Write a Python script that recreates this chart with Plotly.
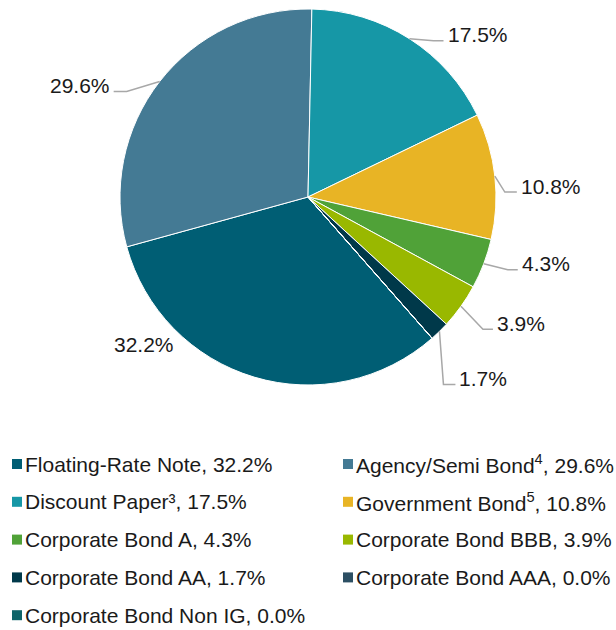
import math
import plotly.graph_objects as go

# Portfolio composition by instrument type (% of holdings)
categories = [
    "Floating-Rate Note",
    "Agency/Semi Bond<sup>4</sup>",
    "Discount Paper³",
    "Government Bond<sup>5</sup>",
    "Corporate Bond A",
    "Corporate Bond BBB",
    "Corporate Bond AA",
    "Corporate Bond AAA",
    "Corporate Bond Non IG",
]
weights = [32.2, 29.6, 17.5, 10.8, 4.3, 3.9, 1.7, 0.0, 0.0]
colors = [
    "#005E74", "#447A94", "#1697A6", "#E8B425", "#50A238",
    "#99B800", "#00394A", "#2C4F63", "#0E6469",
]

# ---- geometry (pixels) ----
W, H = 616, 630
CX, CY, R = 308, 197, 188
ROTATION = 138.7          # start angle of the first slice, clockwise from 12 o'clock
FONT = "Arial, 'Liberation Sans', sans-serif"
TEXT_COLOR = "#1A1A1A"
LEADER_COLOR = "#A8A8A8"

# Leader style per slice: (elbow dx, elbow dy, horizontal arm) in px, relative to the rim point
leaders = [
    None,
    (-33, 10, -13),
    (24, 2, 10),
    (10, 16, 12),
    (24, 6, 10),
    (22, 23, 10),
    (4, 53, 12),
    None,
    None,
]
# Floating-rate label sits just outside the rim without a connector
floating_offset = (-110, -33)


def px(x, y):
    return x / W, 1 - y / H


fig = go.Figure(
    go.Pie(
        labels=categories,
        values=weights,
        sort=False,
        direction="clockwise",
        rotation=ROTATION,
        marker=dict(colors=colors, line=dict(color="white", width=1)),
        textinfo="none",
        hoverinfo="label+percent",
        showlegend=False,
        domain=dict(x=[(CX - R) / W, (CX + R) / W], y=[1 - (CY + R) / H, 1 - (CY - R) / H]),
    )
)

shapes = []
annotations = []
total = sum(weights)
start = ROTATION
for i, (name, v) in enumerate(zip(categories, weights)):
    span = v / total * 360
    mid = math.radians(start + span / 2)
    start += span
    if v <= 0:
        continue
    label = f"{v:.1f}%"
    ex = CX + R * math.sin(mid)
    ey = CY - R * math.cos(mid)
    style = leaders[i]
    if style is None:
        tx, ty = ex + floating_offset[0], ey + floating_offset[1]
        x, y = px(tx, ty)
        annotations.append(dict(
            x=x, y=y, xref="paper", yref="paper", text=label, showarrow=False,
            xanchor="center", yanchor="middle",
            font=dict(family=FONT, size=21, color=TEXT_COLOR),
        ))
        continue
    bx, by = ex + style[0], ey + style[1]
    fx, fy = bx + style[2], by
    p0, p1, p2 = px(ex, ey), px(bx, by), px(fx, fy)
    shapes.append(dict(
        type="path", xref="paper", yref="paper",
        path=f"M {p0[0]} {p0[1]} L {p1[0]} {p1[1]} L {p2[0]} {p2[1]}",
        line=dict(color=LEADER_COLOR, width=1.5),
    ))
    right = style[2] > 0
    tx = fx + (2 if right else -2)
    x, y = px(tx, fy - 6)
    annotations.append(dict(
        x=x, y=y, xref="paper", yref="paper", text=label, showarrow=False,
        xanchor="left" if right else "right", yanchor="middle",
        font=dict(family=FONT, size=21, color=TEXT_COLOR),
    ))

# ---- two-column legend ----
col_x = [12, 343]
row_y0, row_gap = 464, 37.8
SQ = 10
for i, (name, v, c) in enumerate(zip(categories, weights, colors)):
    col, row = i % 2, i // 2
    sx = col_x[col]
    sy = row_y0 + row * row_gap
    x0, y0 = px(sx, sy - SQ / 2)
    x1, y1 = px(sx + SQ, sy + SQ / 2)
    shapes.append(dict(
        type="rect", xref="paper", yref="paper",
        x0=x0, x1=x1, y0=y1, y1=y0, fillcolor=c, line=dict(width=0),
    ))
    tx, ty = px(sx + 11, sy)
    annotations.append(dict(
        x=tx, y=ty, xref="paper", yref="paper", text=f"{name}, {v:.1f}%",
        showarrow=False, xanchor="left", yanchor="middle",
        font=dict(family=FONT, size=21, color=TEXT_COLOR),
    ))

fig.update_layout(
    width=W, height=H,
    margin=dict(l=0, r=0, t=0, b=0),
    paper_bgcolor="white", plot_bgcolor="white",
    shapes=shapes, annotations=annotations,
)

fig.write_html("out.html")
